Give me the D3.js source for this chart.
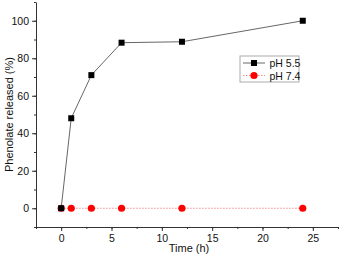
<!DOCTYPE html>
<html>
<head>
<meta charset="utf-8">
<script src="https://cdn.jsdelivr.net/npm/d3@7"></script>
<style>
  body { margin: 0; background: #fff; }
  text { font-family: "Liberation Sans", Arial, sans-serif; }
</style>
</head>
<body>
<svg id="chart" width="342" height="257"></svg>
<script>
// release data
var times   = [0, 1, 3, 6, 12, 24];
var ph55    = [0, 48, 71, 88.3, 88.8, 100];
var ph74    = [0, 0, 0, 0, 0, 0];
var xTicks  = [0, 5, 10, 15, 20, 25];
var yTicks  = [0, 20, 40, 60, 80, 100];
var seriesNames = ['pH 5.5', 'pH 7.4'];

var svg = d3.select("#chart");
var m = { left: 36, right: 4, top: 2, bottom: 30 };
var width = 342, height = 257;

var x = d3.scaleLinear().domain([-2.5, 27.5]).range([m.left, width - m.right]);
var y = d3.scaleLinear().domain([-10, 110]).range([height - m.bottom, m.top]);

// minor ticks first, then major axis
svg.append("g")
   .attr("transform", "translate(0," + (height - m.bottom) + ")")
   .call(d3.axisBottom(x).tickValues(d3.range(-2.5, 27.6, 2.5)).tickSize(2).tickFormat(""))
   .call(function(g){ g.select(".domain").remove(); });
svg.append("g")
   .attr("transform", "translate(" + m.left + ",0)")
   .call(d3.axisLeft(y).tickValues(d3.range(-10, 110.1, 10)).tickSize(2).tickFormat(""))
   .call(function(g){ g.select(".domain").remove(); });

var xAxis = svg.append("g")
   .attr("transform", "translate(0," + (height - m.bottom) + ")")
   .call(d3.axisBottom(x).tickValues(xTicks).tickSize(4).tickSizeOuter(0).tickPadding(4));
var yAxis = svg.append("g")
   .attr("transform", "translate(" + m.left + ",0)")
   .call(d3.axisLeft(y).tickValues(yTicks).tickSize(4).tickSizeOuter(0).tickPadding(3));

svg.selectAll(".tick line").attr("stroke", "#333");
svg.selectAll(".domain").attr("stroke", "#333");
svg.selectAll(".tick text").attr("font-size", 10.5).attr("fill", "#111")
   .attr("font-family", "'Liberation Sans', Arial, sans-serif");

svg.append("text")
   .attr("x", (x(-2.5) + x(27.5)) / 2 + 2).attr("y", 252)
   .attr("text-anchor", "middle").attr("font-size", 11).attr("fill", "#111")
   .text("Time (h)");
svg.append("text")
   .attr("transform", "translate(13," + y(50) + ") rotate(-90)")
   .attr("text-anchor", "middle").attr("font-size", 11).attr("fill", "#111")
   .text("Phenolate released (%)");

var line = d3.line().x(function(d){ return x(d[0]); }).y(function(d){ return y(d[1]); });

// pH 7.4
var red = d3.zip(times, ph74);
svg.append("path").attr("d", line(red)).attr("fill", "none")
   .attr("stroke", "#f07070").attr("stroke-width", 0.8).attr("stroke-dasharray", "1.5,1.5");
svg.selectAll(".red-dot").data(red).enter().append("circle")
   .attr("cx", function(d){ return x(d[0]); }).attr("cy", function(d){ return y(d[1]); })
   .attr("r", 3.6).attr("fill", "#ff0000");

// pH 5.5
var black = d3.zip(times, ph55);
svg.append("path").attr("d", line(black)).attr("fill", "none")
   .attr("stroke", "#555").attr("stroke-width", 0.9);
svg.selectAll(".blk-sq").data(black).enter().append("rect")
   .attr("x", function(d){ return x(d[0]) - 3; }).attr("y", function(d){ return y(d[1]) - 3; })
   .attr("width", 6).attr("height", 6).attr("fill", "#000");

// legend
var lg = svg.append("g").attr("transform", "translate(240,56)");
lg.append("rect").attr("width", 59).attr("height", 26)
  .attr("fill", "#fff").attr("stroke", "#aaa").attr("stroke-width", 1);
seriesNames.forEach(function(name, i){
  var cy = 7 + i * 12.5;
  var row = lg.append("g").attr("transform", "translate(0," + cy + ")");
  if (i === 0) {
    row.append("line").attr("x1", 3).attr("x2", 25).attr("stroke", "#555").attr("stroke-width", 0.9);
    row.append("rect").attr("x", 11).attr("y", -3).attr("width", 6).attr("height", 6).attr("fill", "#000");
  } else {
    row.append("line").attr("x1", 3).attr("x2", 25).attr("stroke", "#f07070")
       .attr("stroke-width", 0.8).attr("stroke-dasharray", "1.5,1.5");
    row.append("circle").attr("cx", 14).attr("r", 3.6).attr("fill", "#ff0000");
  }
  row.append("text").attr("x", 29.5).attr("y", 4).attr("font-size", 10.5).attr("fill", "#111").text(name);
});
</script>
</body>
</html>
